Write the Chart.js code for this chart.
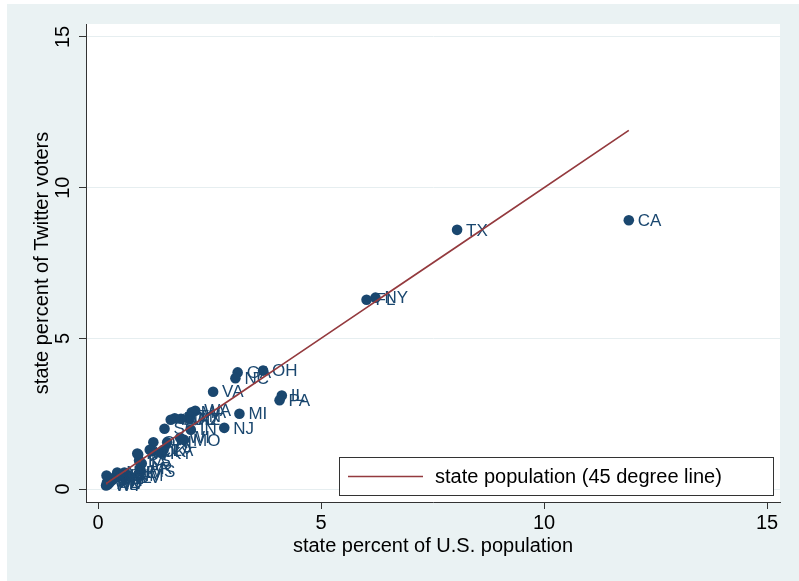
<!DOCTYPE html>
<html>
<head>
<meta charset="utf-8">
<script src="https://cdn.jsdelivr.net/npm/chart.js@4"></script>
<style>
  html, body { margin: 0; padding: 0; background: #ffffff; }
  #wrap { width: 799px; height: 581px; }
</style>
</head>
<body>
<div id="wrap"><canvas id="stateChart" width="799" height="581"></canvas></div>
<script>
// state labels
const states = ['CA','TX','NY','FL','IL','PA','OH','MI','GA','NC','NJ','VA','WA','MA','IN','AZ','TN','MO','MD','WI',
    'MN','CO','AL','SC','LA','KY','OR','OK','CT','IA','MS','AR','KS','UT','NV','NM','WV','NE','ID','HI',
    'ME','NH','RI','MT','DE','SD','AK','ND','VT','DC','WY'];

// state percent of U.S. population
const popPct = [11.9, 8.05, 6.22, 6.02, 4.12, 4.07, 3.70, 3.17, 3.13, 3.08, 2.83, 2.58, 2.18, 2.10, 2.08, 2.05, 2.05, 1.93, 1.86, 1.84,
    1.72, 1.63, 1.55, 1.49, 1.47, 1.41, 1.24, 1.22, 1.16, 0.98, 0.96, 0.94, 0.92, 0.90, 0.88, 0.67, 0.60, 0.59, 0.51, 0.44,
    0.43, 0.43, 0.34, 0.32, 0.29, 0.26, 0.23, 0.22, 0.20, 0.19, 0.18];

// state percent of Twitter voters
const twitterPct = [8.92, 8.60, 6.35, 6.28, 3.10, 2.95, 3.93, 2.50, 3.87, 3.68, 2.03, 3.23, 2.60, 2.55, 1.97, 2.32, 2.40, 1.63, 2.33, 1.70,
    2.35, 2.30, 1.55, 2.00, 1.30, 1.20, 1.55, 1.25, 1.30, 0.85, 0.60, 0.70, 0.95, 1.15, 1.18, 0.45, 0.40, 0.55, 0.45, 0.50,
    0.40, 0.55, 0.35, 0.30, 0.35, 0.22, 0.20, 0.15, 0.22, 0.45, 0.12];

const tickValues = [0, 5, 10, 15];
const xTitle = 'state percent of U.S. population';
const yTitle = 'state percent of Twitter voters';
const legendLabel = 'state population (45 degree line)';

const NAVY = '#1a476f';
const MAROON = '#943a3e';
const FONT = '"Liberation Sans", Arial, Helvetica, sans-serif';

const points = states.map((s, i) => ({ x: popPct[i], y: twitterPct[i], label: s }));
const linePts = popPct.slice().sort((a, b) => a - b).map(v => ({ x: v, y: v }));

// background, tick labels, titles, legend
const stataLook = {
    id: 'stataLook',
    beforeDraw(chart) {
        const { ctx, chartArea: a } = chart;
        ctx.save();
        ctx.fillStyle = '#ffffff';
        ctx.fillRect(0, 0, chart.width, chart.height);
        ctx.fillStyle = '#eaf2f3';
        ctx.fillRect(7, 4, chart.width - 7, chart.height - 4);
        ctx.fillStyle = '#ffffff';
        ctx.fillRect(a.left, a.top, a.right - a.left, a.bottom - a.top);
        ctx.restore();
    },
    afterDatasetDraw(chart, args) {
        if (args.index !== 0) return;
        const { ctx } = chart;
        const meta = chart.getDatasetMeta(0);
        ctx.save();
        ctx.fillStyle = NAVY;
        ctx.font = '17px ' + FONT;
        ctx.textBaseline = 'middle';
        ctx.textAlign = 'left';
        meta.data.forEach((el, i) => {
            ctx.fillText(points[i].label, el.x + 9, el.y + 1);
        });
        ctx.restore();
    },
    afterDraw(chart) {
        const { ctx, chartArea: a } = chart;
        const xs = chart.scales.x, ys = chart.scales.y;
        ctx.save();
        ctx.fillStyle = '#000000';
        ctx.font = '20px ' + FONT;

        // x tick labels
        ctx.textAlign = 'center';
        ctx.textBaseline = 'middle';
        tickValues.forEach(v => ctx.fillText(String(v), xs.getPixelForValue(v), 523));

        // y tick labels (rotated)
        tickValues.forEach(v => {
            ctx.save();
            ctx.translate(63, ys.getPixelForValue(v));
            ctx.rotate(-Math.PI / 2);
            ctx.fillText(String(v), 0, 0);
            ctx.restore();
        });

        // axis titles
        ctx.fillText(xTitle, (a.left + a.right) / 2, 546);
        ctx.save();
        ctx.translate(42, (a.top + a.bottom) / 2);
        ctx.rotate(-Math.PI / 2);
        ctx.fillText(yTitle, 0, 0);
        ctx.restore();

        // legend box
        const lx = 339, ly = 457, lw = 434, lh = 38;
        ctx.fillStyle = '#ffffff';
        ctx.fillRect(lx, ly, lw, lh);
        ctx.strokeStyle = '#333333';
        ctx.lineWidth = 1;
        ctx.strokeRect(lx + 0.5, ly + 0.5, lw, lh);
        ctx.strokeStyle = MAROON;
        ctx.lineWidth = 1.5;
        ctx.beginPath();
        ctx.moveTo(348, 476.5);
        ctx.lineTo(423, 476.5);
        ctx.stroke();
        ctx.fillStyle = '#000000';
        ctx.textAlign = 'left';
        ctx.fillText(legendLabel, 435, 477);
        ctx.restore();
    }
};

function createStateChart() {
    const ctx = document.getElementById('stateChart').getContext('2d');

    window.stateChart = new Chart(ctx, {
        type: 'scatter',
        data: {
            datasets: [{
                label: 'states',
                data: points,
                backgroundColor: NAVY,
                borderWidth: 0,
                pointRadius: 5.3,
                order: 2
            }, {
                type: 'line',
                label: legendLabel,
                data: linePts,
                borderColor: MAROON,
                borderWidth: 1.7,
                pointRadius: 0,
                fill: false,
                tension: 0,
                order: 1
            }]
        },
        options: {
            responsive: false,
            animation: false,
            devicePixelRatio: 1,
            layout: { padding: { left: 0, top: 24, right: 19, bottom: 0 } },
            plugins: {
                legend: { display: false },
                tooltip: { enabled: false }
            },
            scales: {
                x: {
                    type: 'linear',
                    min: -0.27,
                    max: 15.29,
                    afterBuildTicks: s => { s.ticks = tickValues.map(v => ({ value: v })); },
                    afterFit: s => { s.height = 79; },
                    ticks: { display: false },
                    grid: { drawOnChartArea: false, drawTicks: true, tickLength: 7, tickColor: '#333333' },
                    border: { display: true, color: '#333333', width: 1 }
                },
                y: {
                    type: 'linear',
                    min: -0.43,
                    max: 15.43,
                    afterBuildTicks: s => { s.ticks = tickValues.map(v => ({ value: v })); },
                    afterFit: s => { s.width = 86; },
                    ticks: { display: false },
                    grid: { drawOnChartArea: true, color: '#e6eef0', drawTicks: true, tickLength: 7, tickColor: '#333333' },
                    border: { display: true, color: '#333333', width: 1 }
                }
            }
        },
        plugins: [stataLook]
    });
}

document.addEventListener('DOMContentLoaded', () => {
    createStateChart();
});
</script>
</body>
</html>
